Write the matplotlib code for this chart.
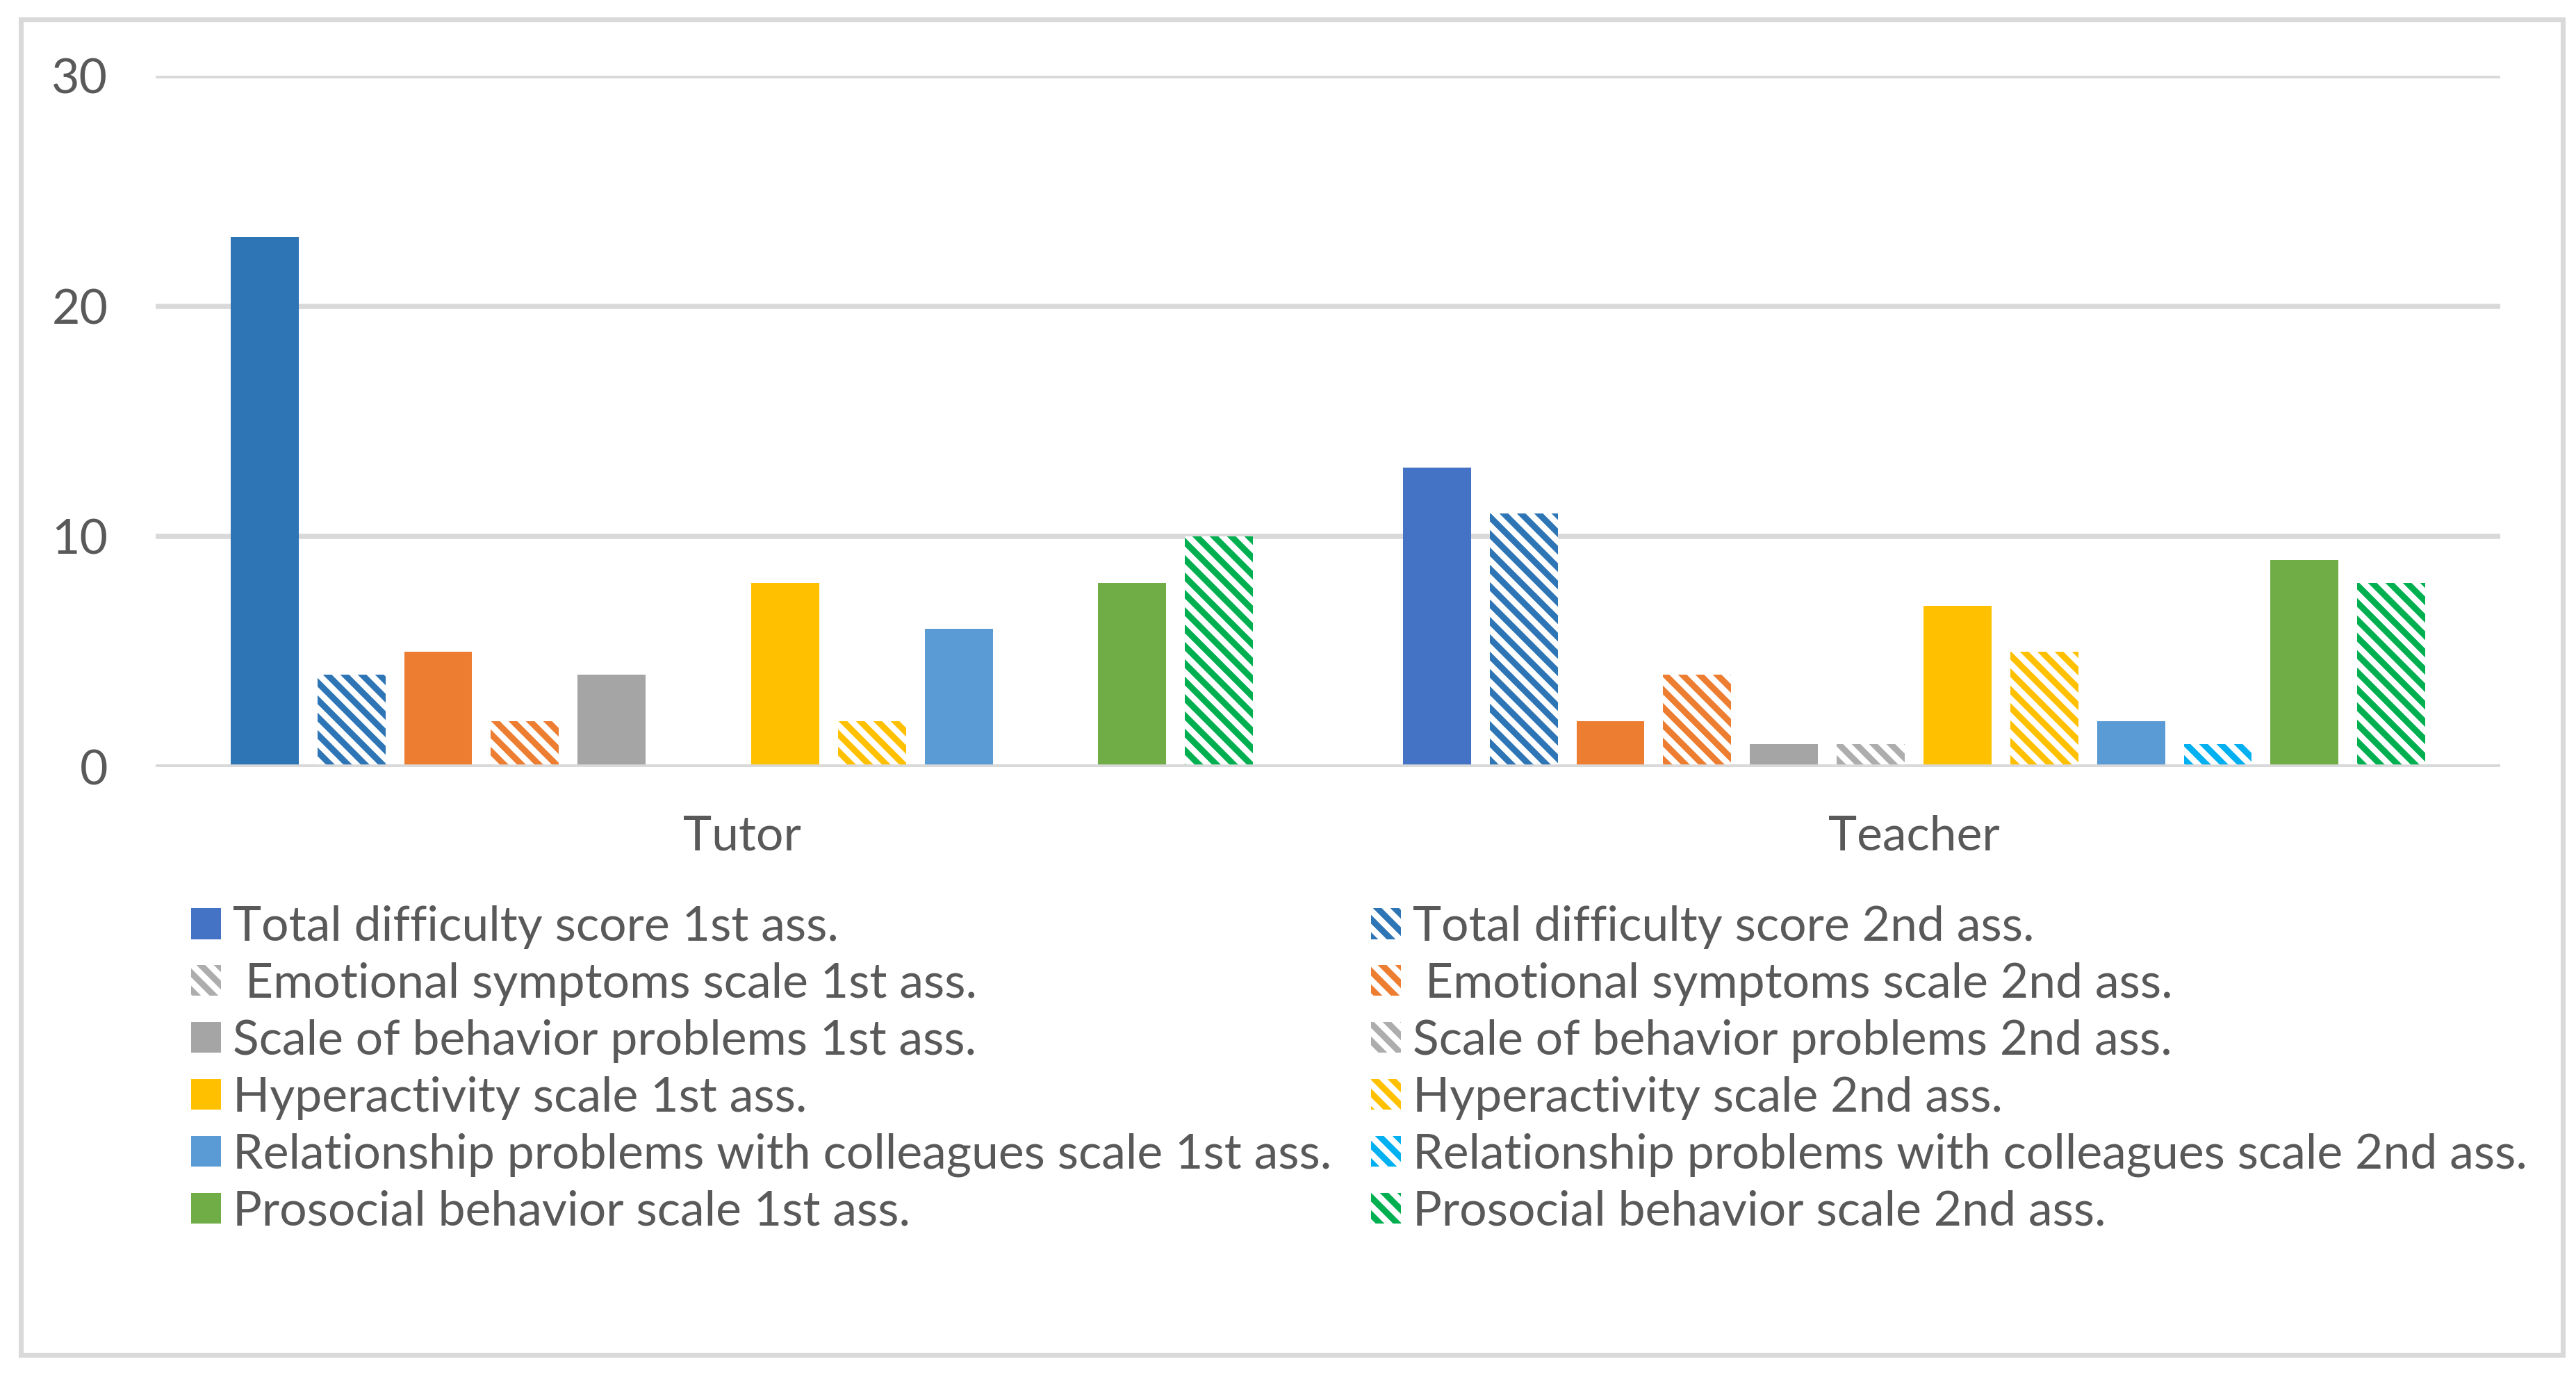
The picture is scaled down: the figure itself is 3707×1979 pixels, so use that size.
import matplotlib
matplotlib.use("Agg")
import matplotlib.pyplot as plt
from matplotlib.patches import Patch, Rectangle
import numpy as np

plt.rcParams['font.family'] = ['Lato', 'DejaVu Sans']
plt.rcParams['hatch.linewidth'] = 4.3

# data
groups = ['Tutor', 'Teacher']
series_labels = [
    'Total difficulty score 1st ass.', 'Total difficulty score 2nd ass.',
    ' Emotional symptoms scale 1st ass.', ' Emotional symptoms scale 2nd ass.',
    'Scale of behavior problems 1st ass.', 'Scale of behavior problems 2nd ass.',
    'Hyperactivity scale 1st ass.', 'Hyperactivity scale 2nd ass.',
    'Relationship problems with colleagues scale 1st ass.',
    'Relationship problems with colleagues scale 2nd ass.',
    'Prosocial behavior scale 1st ass.', 'Prosocial behavior scale 2nd ass.',
]
tutor = [23, 4, 5, 2, 4, 0, 8, 2, 6, 0, 8, 10]
teacher = [13, 11, 2, 4, 1, 1, 7, 5, 2, 1, 9, 8]

# bar colours (first series differs between the two groups)
bar_colors = [
    ['#2E75B6', '#4472C4'], '#2E75B6',
    '#ED7D31', '#ED7D31',
    '#A5A5A5', '#ADADAD',
    '#FFC000', '#FFC000',
    '#5B9BD5', '#00B0F0',
    '#70AD47', '#00B050',
]
hatched = [False, True] * 6
# legend swatches as they appear in the original
legend_colors = ['#4472C4', '#2E75B6', '#ADADAD', '#ED7D31', '#A5A5A5', '#ADADAD',
                 '#FFC000', '#FFC000', '#5B9BD5', '#00B0F0', '#70AD47', '#00B050']
legend_hatched = [False, True, True, True, False, True, False, True, False, True, False, True]

W, H = 3707, 1979
fig = plt.figure(figsize=(W / 150, H / 150), dpi=150)
ax = fig.add_axes([224 / W, 1 - 1104 / H, (3598 - 224) / W, (1104 - 109) / H])

x = np.arange(len(groups))
step = 0.074
width = 0.058
grey = '#595959'
hatch = '\\\\'
fs = 33.5

for i, lab in enumerate(series_labels):
    vals = [tutor[i], teacher[i]]
    c = bar_colors[i]
    pos = x + (i - 5.5) * step
    if hatched[i]:
        ax.bar(pos, vals, width, facecolor='white', edgecolor=c, hatch=hatch, linewidth=0, zorder=2)
    else:
        ax.bar(pos, vals, width, color=c, linewidth=0, zorder=2)

ax.set_xlim(-0.5, 1.5)
ax.set_ylim(0, 30)
ax.set_yticks([0, 10, 20, 30])
ax.set_xticks(x)
ax.set_xticklabels(groups)
ax.tick_params(length=0, labelsize=fs, colors=grey)
ax.tick_params(axis='y', pad=33)
ax.tick_params(axis='x', pad=33)
ax.grid(axis='y', color='#D9D9D9', linewidth=3.6, zorder=0)
ax.set_axisbelow(True)
ax.axhline(0, color='#D9D9D9', linewidth=3.6, zorder=3)
for s in ax.spines.values():
    s.set_visible(False)

handles = []
for c, h in zip(legend_colors, legend_hatched):
    if h:
        handles.append(Patch(facecolor='white', edgecolor=c, hatch=hatch, linewidth=0))
    else:
        handles.append(Patch(facecolor=c, linewidth=0))

common = dict(loc='upper left', frameon=False, fontsize=fs, labelcolor=grey,
              handlelength=0.62, handleheight=0.6, handletextpad=0.24,
              labelspacing=0.27, borderpad=0, borderaxespad=0)
leg1 = fig.legend(handles[0::2], series_labels[0::2],
                  bbox_to_anchor=(275 / W, 1 - 1303 / H), **common)
leg2 = fig.legend(handles[1::2], series_labels[1::2],
                  bbox_to_anchor=(1973 / W, 1 - 1303 / H), **common)

# chart area border
fig.patches.append(Rectangle((30 / W, 1 - 1950 / H), (3688 - 30) / W, (1950 - 28) / H,
                             transform=fig.transFigure, fill=False,
                             edgecolor='#D9D9D9', linewidth=3.4))

fig.savefig('out.png', dpi=150)
